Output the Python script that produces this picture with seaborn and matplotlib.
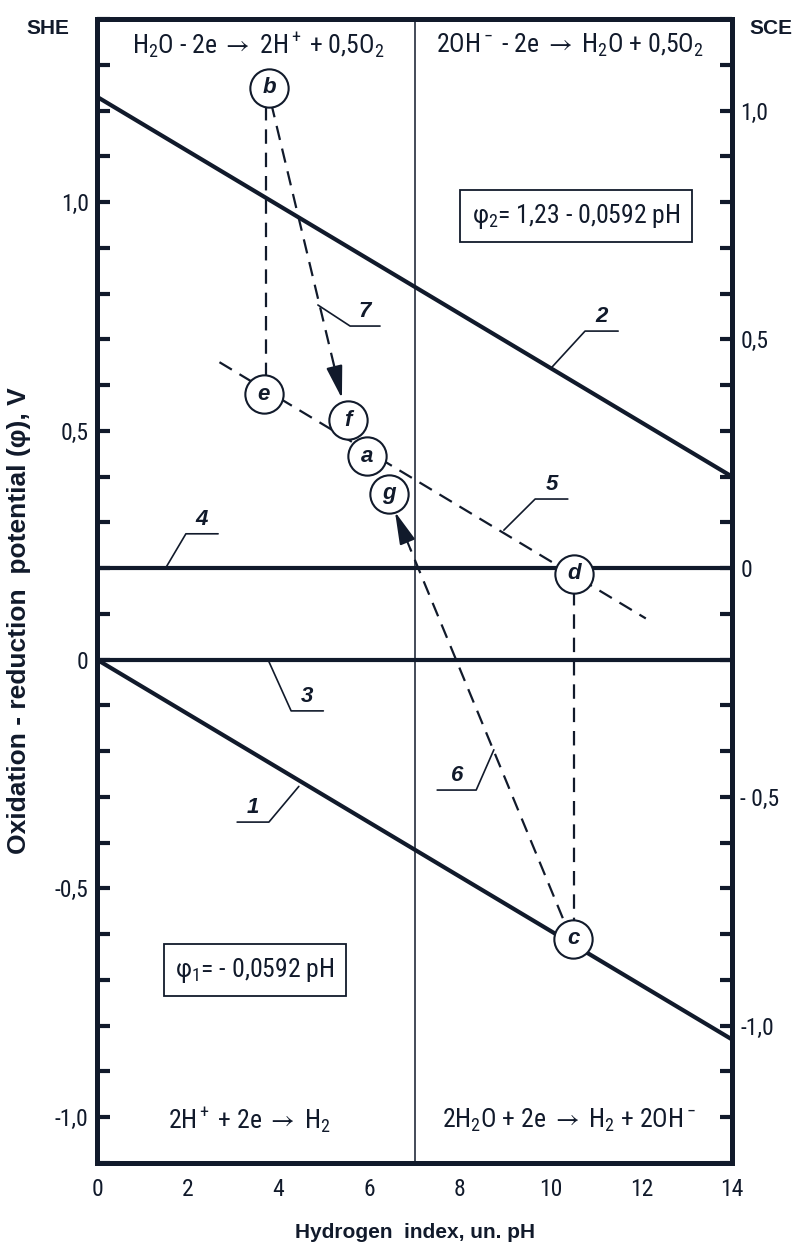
import numpy as np
import matplotlib
matplotlib.use('Agg')
import matplotlib.pyplot as plt
import seaborn as sns
from matplotlib import font_manager
from matplotlib.ticker import MultipleLocator, FixedLocator, FixedFormatter

# data (pH, potential vs SHE in V)
ph_ends = [0, 14]
line1_phi = [0.0, -0.83]          # phi1 = -0.0592 pH
line2_phi = [1.23, 0.40]          # phi2 = 1.23 - 0.0592 pH
line3_phi = [0.0, 0.0]
line4_phi = [0.2, 0.2]
line5_ph = [2.7, 12.1]
line5_phi = [0.65, 0.09]

point_names = ['b', 'e', 'f', 'a', 'g', 'd', 'c']
point_ph = [3.8, 3.68, 5.53, 5.95, 6.43, 10.52, 10.5]
point_phi = [1.25, 0.58, 0.523, 0.444, 0.362, 0.188, -0.61]

# dashed connectors b-e and d-c
conn_ph = [[3.73, 3.73], [10.52, 10.52]]
conn_phi = [[1.21, 0.62], [0.15, -0.57]]

# dashed arrows 7 (b -> f) and 6 (c -> g): tail, tip
arrow_ph = [[3.84, 5.40], [10.27, 6.57]]
arrow_phi = [[1.216, 0.571], [-0.565, 0.323]]

# leader lines for curve numbers: (touch point, elbow, end)
leader_names = ['1', '2', '3', '4', '5', '6', '7']
leader_ph = [[4.45, 3.79, 3.09], [10.01, 10.76, 11.49], [3.77, 4.28, 4.99],
             [1.50, 1.96, 2.67], [8.97, 9.66, 10.38], [8.75, 8.36, 7.50],
             [4.87, 5.58, 6.24]]
leader_phi = [[-0.277, -0.355, -0.355], [0.637, 0.718, 0.718], [0.0, -0.112, -0.112],
              [0.198, 0.275, 0.275], [0.283, 0.351, 0.351], [-0.197, -0.285, -0.285],
              [0.775, 0.729, 0.729]]

reactions = [r'H$_2$O - 2e $\rightarrow$ 2H$^+$ + 0,5O$_2$',
             r'2OH$^-$ - 2e $\rightarrow$ H$_2$O + 0,5O$_2$',
             r'2H$^+$ + 2e $\rightarrow$ H$_2$',
             r'2H$_2$O + 2e $\rightarrow$ H$_2$ + 2OH$^-$']
reaction_ph = [3.55, 10.43, 3.37, 10.4]
reaction_phi = [1.343, 1.343, -1.006, -1.006]

formulas = ['\u03c6$_2$= 1,23 - 0,0592 pH', '\u03c6$_1$= - 0,0592 pH']
formula_ph = [10.56, 3.48]
formula_phi = [0.969, -0.679]

she_ticks = [1.0, 0.5, 0.0, -0.5, -1.0]
she_labels = ['1,0', '0,5', '0', '-0,5', '-1,0']
sce_ticks = [1.0, 0.5, 0.0, -0.5, -1.0]
sce_labels = ['1,0', '0,5', '0', '- 0,5', '-1,0']
sce_offset = 0.2
ph_ticks = [0, 2, 4, 6, 8, 10, 12, 14]

sns.set_style('white')
names = {f.name for f in font_manager.fontManager.ttflist}
narrow = 'Roboto Condensed' if 'Roboto Condensed' in names else 'Liberation Sans'
plt.rcParams['font.family'] = [narrow, 'DejaVu Sans']
plt.rcParams['mathtext.fontset'] = 'custom'
plt.rcParams['mathtext.rm'] = narrow
plt.rcParams['mathtext.it'] = narrow + ':italic'
plt.rcParams['mathtext.bf'] = narrow + ':bold'
plt.rcParams['mathtext.fallback'] = 'stixsans'

ink = '#111a2b'
bold_font = ['Liberation Sans', 'DejaVu Sans']

fig = plt.figure(figsize=(8.05, 12.43), dpi=100)
ax = fig.add_axes([97 / 805, 80 / 1243, 635 / 805, 1144 / 1243])

# main solid lines
for phis in [line1_phi, line2_phi, line3_phi, line4_phi]:
    sns.lineplot(x=ph_ends, y=phis, ax=ax, color=ink, lw=3.0, sort=False, estimator=None)
ax.axvline(7, color=ink, lw=1.1)

dash = (0, (6.5, 4))
sns.lineplot(x=line5_ph, y=line5_phi, ax=ax, color=ink, lw=1.6, linestyle=dash,
             sort=False, estimator=None)
for xs, ys in zip(conn_ph, conn_phi):
    sns.lineplot(x=xs, y=ys, ax=ax, color=ink, lw=1.6, linestyle=dash, sort=False, estimator=None)

for xs, ys in zip(arrow_ph, arrow_phi):
    bx = xs[1] - 0.09 * (xs[1] - xs[0])
    by = ys[1] - 0.09 * (ys[1] - ys[0])
    sns.lineplot(x=[xs[0], bx], y=[ys[0], by], ax=ax, color=ink, lw=1.6, linestyle=dash,
                 sort=False, estimator=None)
    ax.annotate('', xy=(xs[1], ys[1]), xytext=(bx, by),
                arrowprops=dict(arrowstyle='-|>,head_length=1.0,head_width=0.25',
                                mutation_scale=20, color=ink, lw=1.5, shrinkA=0, shrinkB=0))

# leaders with curve numbers
for name, xs, ys in zip(leader_names, leader_ph, leader_phi):
    sns.lineplot(x=xs, y=ys, ax=ax, color=ink, lw=1.2, sort=False, estimator=None)
    ax.text((xs[1] + xs[2]) / 2, ys[2] + 0.008, name, ha='center', va='bottom',
            fontsize=16, fontweight='bold', style='italic', color=ink, family=bold_font)

# state circles
sns.scatterplot(x=point_ph, y=point_phi, ax=ax, s=760, color='white', edgecolor=ink,
                linewidth=1.5, zorder=5)
for name, px, py in zip(point_names, point_ph, point_phi):
    ax.text(px, py, name, ha='center', va='center', fontsize=16, fontweight='bold',
            style='italic', color=ink, zorder=6, family=bold_font)

for txt, px, py in zip(reactions, reaction_ph, reaction_phi):
    ax.text(px, py, txt, ha='center', va='center', fontsize=18.5, color=ink)

for txt, px, py in zip(formulas, formula_ph, formula_phi):
    ax.text(px, py, txt, ha='center', va='center', fontsize=18.5, color=ink,
            bbox=dict(boxstyle='square,pad=0.45', fc='white', ec=ink, lw=1.3))

ax.set_xlim(0, 14)
ax.set_ylim(-1.1, 1.4)
ax.xaxis.set_major_locator(FixedLocator(ph_ticks))
ax.xaxis.set_minor_locator(MultipleLocator(1))
ax.yaxis.set_major_locator(FixedLocator(she_ticks))
ax.yaxis.set_major_formatter(FixedFormatter(she_labels))
ax.yaxis.set_minor_locator(MultipleLocator(0.1))
ax.tick_params(axis='both', which='both', direction='in', width=3, colors=ink,
               labelsize=17, labelcolor=ink)
ax.tick_params(axis='x', which='major', length=11, pad=11)
ax.tick_params(axis='x', which='minor', length=6)
ax.tick_params(axis='y', which='both', length=9, pad=6)
ax.tick_params(top=False, right=False, which='both')
for s in ax.spines.values():
    s.set_linewidth(3.6)
    s.set_color(ink)

ax2 = ax.twinx()
ax2.set_ylim(-1.1 - sce_offset, 1.4 - sce_offset)
ax2.yaxis.set_major_locator(FixedLocator(sce_ticks))
ax2.yaxis.set_major_formatter(FixedFormatter(sce_labels))
ax2.yaxis.set_minor_locator(MultipleLocator(0.1))
ax2.tick_params(axis='y', which='both', direction='in', length=9, width=3, colors=ink,
                labelsize=17, labelcolor=ink, pad=6)
for s in ax2.spines.values():
    s.set_visible(False)

ax.set_xlabel('Hydrogen  index, un. pH', fontsize=15, fontweight='bold', color=ink,
              family=bold_font, labelpad=16)
ax.set_ylabel('Oxidation - reduction  potential (\u03c6), V', fontsize=19, fontweight='bold',
              color=ink, family=bold_font)
ax.yaxis.set_label_coords(-0.104, 0.474)

fig.text(48 / 805, 1 - 28 / 1243, 'SHE', ha='center', va='center', fontsize=15,
         fontweight='bold', color=ink, family=bold_font)
fig.text(771 / 805, 1 - 28 / 1243, 'SCE', ha='center', va='center', fontsize=15,
         fontweight='bold', color=ink, family=bold_font)

fig.savefig('out.png', dpi=100)
